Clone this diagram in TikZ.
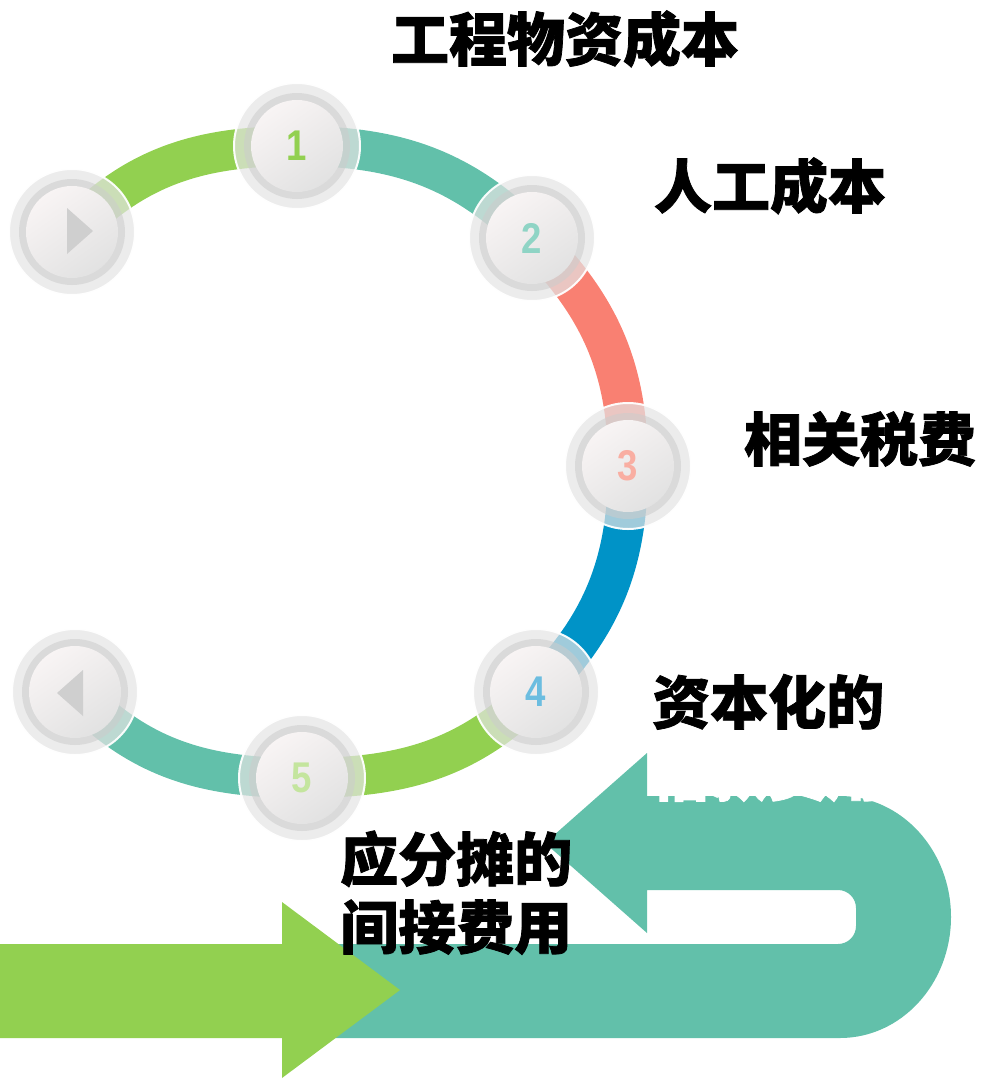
\documentclass[tikz,border=0pt]{standalone}
\usepackage{fontspec}
\newfontfamily\cjk[BoldFeatures={FakeBold=1.3}]{Noto Sans CJK SC}
\newfontfamily\digitfont{Liberation Sans}
\definecolor{cgreen}{HTML}{92D050}
\definecolor{cteal}{HTML}{62C0AA}
\definecolor{csalmon}{HTML}{F98072}
\definecolor{cblue}{HTML}{0093C7}
\definecolor{dgreen}{HTML}{92D050}
\definecolor{dteal}{HTML}{8FD4C5}
\definecolor{dsalmon}{HTML}{F9AEA2}
\definecolor{dblue}{HTML}{6CBDE0}
\definecolor{dlgreen}{HTML}{C4E59E}
\definecolor{ringout}{HTML}{E4E4E4}
\definecolor{ringmid}{HTML}{CCCCCC}
\definecolor{facea}{HTML}{F8F4F4}
\definecolor{faceb}{HTML}{E2E2E2}
\definecolor{tri}{HTML}{CFCFCF}
\tikzset{
  band/.style={line width=40pt, line cap=butt},
  btnouter/.style={fill=ringout, fill opacity=0.7},
  btnrim/.style={draw=white, line width=2pt, opacity=0.95},
  btnmid/.style={fill=ringmid, fill opacity=0.55},
  btnface/.style={top color=facea, bottom color=faceb, shading angle=35},
  digit/.style={font=\digitfont\bfseries\fontsize{43}{43}\selectfont, inner sep=0pt, xscale=0.85},
  lbl/.style={font=\cjk\bfseries\fontsize{58}{60}\selectfont, inner sep=0pt, text=black},
  tripath/.style={fill=tri}
}
\newcommand\btnbase[2]{%
  \fill[btnouter] (#1,#2) circle[radius=63];
  \draw[btnrim] (#1,#2) circle[radius=63];
  \fill[btnmid] (#1,#2) circle[radius=53];
  \shade[btnface] (#1,#2) circle[radius=46];
}
\begin{document}
\begin{tikzpicture}[x=1pt,y=-1pt]
\useasboundingbox (0,0) rectangle (987,1081);
% button centres
\coordinate (pplay) at (72,232);
\coordinate (p1) at (297,146);
\coordinate (p2) at (532,238);
\coordinate (p3) at (628,466);
\coordinate (p4) at (536,692);
\coordinate (p5) at (302,778);
\coordinate (pback) at (75,692);
% ring band
\draw[band, cgreen] (pplay) to[out=46, in=180] (p1);
\draw[band, cteal] (p1) to[out=0, in=135] (p2);
\draw[band, csalmon] (p2) to[out=-45, in=90] (p3);
\draw[band, cblue] (p3) to[out=-90, in=45] (p4);
\draw[band, cgreen] (p4) to[out=-135, in=0] (p5);
\draw[band, cteal] (p5) to[out=180, in=-46] (pback);
% buttons
\btnbase{72}{232}
\fill[tripath] (67,208) -- (93,231) -- (67,254) -- cycle;
\btnbase{297}{146}
\node[digit, text=dgreen] (n1) at (p1) {1};
\btnbase{532}{238}
\node[digit, text=dteal] (n2) at (p2) {2};
\btnbase{628}{466}
\node[digit, text=dsalmon] (n3) at (p3) {3};
\btnbase{536}{692}
\node[digit, text=dblue] (n4) at (p4) {4};
\btnbase{302}{778}
\node[digit, text=dlgreen] (n5) at (p5) {5};
\btnbase{75}{692}
\fill[tripath] (83,670) -- (57,693) -- (83,716) -- cycle;
% bottom U arrow
\fill[cteal] (647,753) -- (545,843) -- (647,933) -- (647,890) -- (838,890)
  arc[start angle=-90, end angle=0, radius=18] -- (856,926)
  arc[start angle=0, end angle=90, radius=18] -- (300,944) -- (300,1038) -- (840,1038)
  arc[start angle=90, end angle=-90, x radius=111, y radius=121] -- (647,796) -- cycle;
% green arrow
\fill[cgreen] (0,944) -- (282,944) -- (282,902) -- (400,990) -- (282,1078) -- (282,1038) -- (0,1038) -- cycle;
% labels
\node[lbl, anchor=base] (t1) at (565,61) {工程物资成本};
\node[lbl, anchor=base] (t2) at (770,208) {人工成本};
\node[lbl, anchor=base] (t3) at (860,461) {相关税费};
\node[lbl, anchor=base west] (t4) at (652,724) {资本化的};
\node[lbl, anchor=base west, text=white] (t4b) at (652,796) {借款费用};
\node[lbl, anchor=base west] (t5) at (340,881) {应分摊的};
\node[lbl, anchor=base west] (t5b) at (340,949) {间接费用};
\end{tikzpicture}
\end{document}
